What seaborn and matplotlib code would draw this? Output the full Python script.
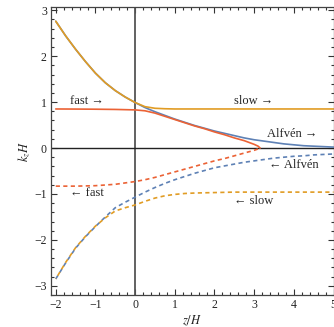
import numpy as np
import pandas as pd
import matplotlib
matplotlib.use("Agg")
import matplotlib.pyplot as plt
from matplotlib.ticker import MultipleLocator
import seaborn as sns

# values
z_full = [-2.0, -1.75, -1.5, -1.25, -1.0, -0.75, -0.5, -0.25, 0.0, 0.25, 0.5, 0.75,
          1.0, 1.25, 1.5, 1.75, 2.0, 2.25, 2.5, 2.75, 3.0, 3.25, 3.5, 3.75, 4.0,
          4.25, 4.5, 4.75, 5.0]
alfven_fwd = [2.76, 2.44, 2.15, 1.88, 1.63, 1.42, 1.25, 1.11, 0.99, 0.88, 0.79, 0.71,
              0.63, 0.56, 0.49, 0.43, 0.37, 0.32, 0.27, 0.22, 0.18, 0.15, 0.12, 0.09,
              0.07, 0.05, 0.04, 0.03, 0.02]
slow_fwd = [2.76, 2.44, 2.15, 1.88, 1.63, 1.42, 1.25, 1.11, 0.99, 0.90, 0.865, 0.855,
            0.85, 0.85, 0.85, 0.85, 0.85, 0.85, 0.85, 0.85, 0.85, 0.85, 0.85, 0.85,
            0.85, 0.85, 0.85, 0.85, 0.85]
alfven_bwd = [-2.85, -2.50, -2.18, -1.93, -1.71, -1.50, -1.30, -1.18, -1.07, -0.96, -0.86, -0.77,
              -0.69, -0.62, -0.55, -0.49, -0.43, -0.39, -0.35, -0.31, -0.28, -0.25, -0.22, -0.20,
              -0.18, -0.17, -0.15, -0.14, -0.13]
slow_bwd = [-2.85, -2.49, -2.17, -1.92, -1.70, -1.52, -1.37, -1.30, -1.24, -1.16, -1.09, -1.04,
            -1.01, -0.99, -0.98, -0.975, -0.97, -0.965, -0.96, -0.96, -0.96, -0.96, -0.96, -0.96,
            -0.96, -0.96, -0.96, -0.96, -0.96]

z_fast = [-2.0, -1.5, -1.0, -0.5, 0.0, 0.25, 0.5, 0.75, 1.0, 1.25, 1.5, 1.75, 2.0,
          2.25, 2.5, 2.75, 3.0, 3.1, 3.15]
fast_fwd = [0.85, 0.848, 0.845, 0.84, 0.83, 0.81, 0.76, 0.69, 0.62, 0.55, 0.48, 0.42, 0.35,
            0.29, 0.22, 0.16, 0.08, 0.04, 0.0]
fast_bwd = [-0.83, -0.83, -0.82, -0.79, -0.73, -0.69, -0.64, -0.58, -0.52, -0.46, -0.40, -0.34, -0.28,
            -0.23, -0.17, -0.11, -0.05, -0.02, 0.0]

blue = "#5E81B5"
orange = "#E19C24"
red = "#EB6235"

sns.set_theme(style="ticks")
plt.rcParams["font.family"] = ["Liberation Serif", "DejaVu Serif"]
plt.rcParams["mathtext.fontset"] = "stix"

fig = plt.figure(figsize=(3.34, 3.27), dpi=100)
ax = fig.add_axes([51 / 334, 32 / 327, 282.5 / 334, 288 / 327])

df_full = pd.DataFrame({"z": z_full, "af": alfven_fwd, "sf": slow_fwd,
                        "ab": alfven_bwd, "sb": slow_bwd})
df_fast = pd.DataFrame({"z": z_fast, "ff": fast_fwd, "fb": fast_bwd})

# axes through the origin
ax.axvline(0, color="#555555", lw=1.3, zorder=1)
ax.axhline(0, color="#222222", lw=1.0, zorder=1)

lw = 1.2
sns.lineplot(data=df_full, x="z", y="af", color=blue, lw=lw, ax=ax)
sns.lineplot(data=df_full, x="z", y="sf", color=orange, lw=lw, ax=ax)
sns.lineplot(data=df_fast, x="z", y="ff", color=red, lw=lw, ax=ax)
sns.lineplot(data=df_full, x="z", y="ab", color=blue, lw=lw, ax=ax, linestyle=(0, (2.5, 2)))
sns.lineplot(data=df_full, x="z", y="sb", color=orange, lw=lw, ax=ax, linestyle=(2.2, (2.5, 2)))
sns.lineplot(data=df_fast, x="z", y="fb", color=red, lw=lw, ax=ax, linestyle=(0, (2.5, 2)))

# curve labels
fs = 9
ax.text(-1.21, 1.02, "fast →", fontsize=fs, ha="center", va="center")
ax.text(2.98, 1.02, "slow →", fontsize=fs, ha="center", va="center")
ax.text(3.96, 0.31, "Alfvén →", fontsize=fs, ha="center", va="center")
ax.text(4.0, -0.38, "← Alfvén", fontsize=fs, ha="center", va="center")
ax.text(-1.21, -0.98, "← fast", fontsize=fs, ha="center", va="center")
ax.text(2.98, -1.15, "← slow", fontsize=fs, ha="center", va="center")

ax.set_xlim(-2.12, 5.0)
ax.set_ylim(-3.2, 3.07)
ax.xaxis.set_major_locator(MultipleLocator(1))
ax.xaxis.set_minor_locator(MultipleLocator(0.2))
ax.yaxis.set_major_locator(MultipleLocator(1))
ax.yaxis.set_minor_locator(MultipleLocator(0.2))
ax.tick_params(which="both", direction="in", top=True, right=True,
               colors="#333333", labelcolor="#222222", width=0.8)
ax.tick_params(which="major", length=4, labelsize=8.5, pad=3)
ax.tick_params(which="minor", length=2.2)
for s in ax.spines.values():
    s.set_color("#444444")
    s.set_linewidth(0.9)

ax.set_xlabel("$z/H$", fontsize=9, color="#222222", labelpad=2)
ax.set_ylabel("$k_z H$", fontsize=9, color="#222222", labelpad=2)

fig.savefig("out.png", dpi=100)
